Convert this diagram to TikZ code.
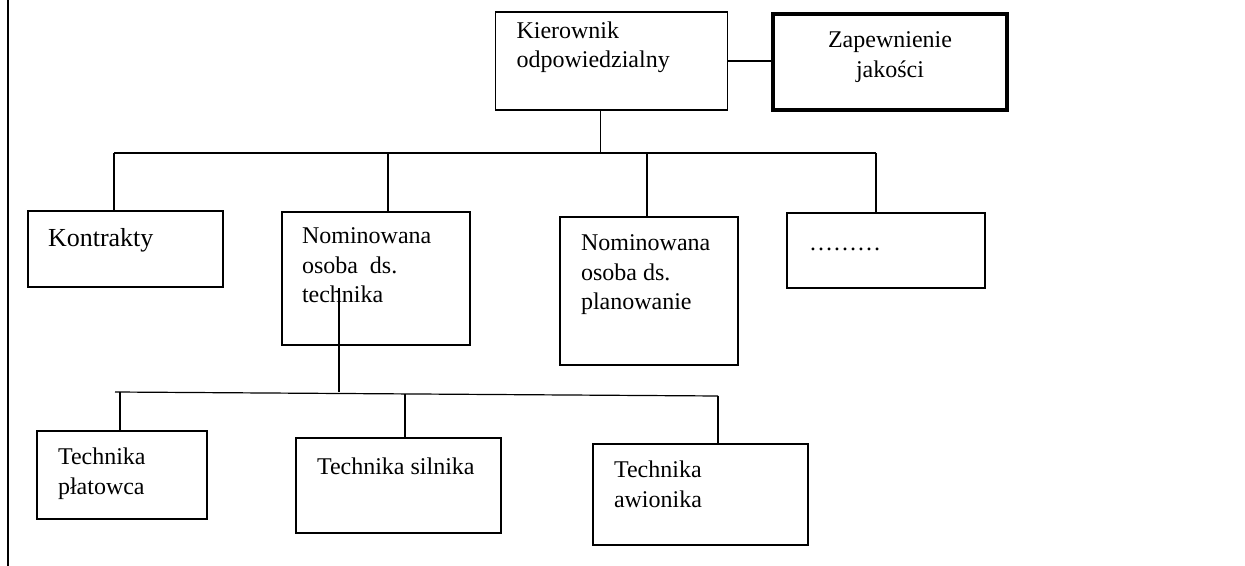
\documentclass[tikz,border=0pt]{standalone}
\usepackage{fontspec}
\setmainfont{Liberation Serif}
\usepackage{tikz}
\usetikzlibrary{positioning}

\begin{document}
\begin{tikzpicture}[
  x=0.5pt,y=-0.5pt,
  every node/.style={font=\fontsize{12}{14.7}\selectfont},
  bnode/.style={draw,line width=0.6pt,inner sep=0pt,outer sep=0pt,
                anchor=north west},
  qnode/.style={bnode,line width=1.7pt},
  tnode/.style={inner sep=0pt,outer sep=0pt,align=left},
  link/.style={line width=0.6pt}
]

\useasboundingbox (0,0) rectangle (1245,566);

% ---- page edge ----
\draw[line width=1pt] (7.5,0) -- (7.5,566);

% ---- top level ----
\node[bnode,minimum width=116pt,minimum height=49pt] (kier) at (495.5,12) {};
\node[qnode,minimum width=117pt,minimum height=48pt] (zap)  at (773,14)   {};
\node[tnode,below right=4.7pt and 10.5pt of kier.north west] (kiertxt)
  {Kierownik\\odpowiedzialny};
\node[tnode,align=center,below=9pt of zap.north] (zaptxt)
  {Zapewnienie\\jakości};

\draw[link] (kier.east) -- (kier.east -| zap.west);

% ---- second level ----
\node[bnode,minimum width=97.5pt,minimum height=38pt]  (kon)  at (28,211)  {};
\node[bnode,minimum width=94pt,minimum height=66.5pt]  (tech) at (282,212) {};
\node[bnode,minimum width=89pt,minimum height=74pt]    (plan) at (560,217) {};
\node[bnode,minimum width=99pt,minimum height=37.5pt]  (etc)  at (787,213) {};

\node[tnode,font=\fontsize{13}{15.7}\selectfont,
      below right=8.5pt and 10pt of kon.north west] (kontxt) {Kontrakty};
\node[tnode,below right=8pt and 10pt of tech.north west] (techtxt)
  {Nominowana\\osoba\ \ ds.\\technika};
\node[tnode,below right=9pt and 10.5pt of plan.north west] (plantxt)
  {Nominowana\\osoba ds.\\planowanie};
\node[tnode,below right=17.5pt and 11pt of etc.north west] (etctxt)
  {………};

% ---- bus to second level ----
\coordinate (top) at (600.5,153);
\coordinate (b1a) at (114,153);
\coordinate (b1b) at (388,153);
\coordinate (b1c) at (647,153);
\coordinate (b1d) at (876,153);

\draw[link] (kier.south -| top) -- (top);
\draw[link] (b1a) -- (b1d);
\draw[link] (b1a) -- (b1a |- kon.north);
\draw[link] (b1b) -- (b1b |- tech.north);
\draw[link] (b1c) -- (b1c |- plan.north);
\draw[link] (b1d) -- (b1d |- etc.north);

% ---- third level ----
\node[bnode,minimum width=85pt,minimum height=44pt]    (plat) at (37,431)  {};
\node[bnode,minimum width=102.5pt,minimum height=47.5pt] (siln) at (296,438) {};
\node[bnode,minimum width=107.5pt,minimum height=50.5pt] (awio) at (593,444) {};

\node[tnode,below right=8.5pt and 10.5pt of plat.north west] (plattxt)
  {Technika\\płatowca};
\node[tnode,below right=10pt and 10.5pt of siln.north west] (silntxt)
  {Technika silnika};
\node[tnode,below right=8.5pt and 10.5pt of awio.north west] (awiotxt)
  {Technika\\awionika};

% ---- bus to third level ----
\coordinate (src) at (339,288);
\coordinate (b2l) at (115,392);
\coordinate (b2a) at (120,392);
\coordinate (b2b) at (405,394);
\coordinate (b2c) at (718,396);

\draw[link] (src) -- (src |- b2l);
\draw[link] (b2l) -- (b2c);
\draw[link] (b2a) -- (b2a |- plat.north);
\draw[link] (b2b) -- (b2b |- siln.north);
\draw[link] (b2c) -- (b2c |- awio.north);

\end{tikzpicture}
\end{document}
